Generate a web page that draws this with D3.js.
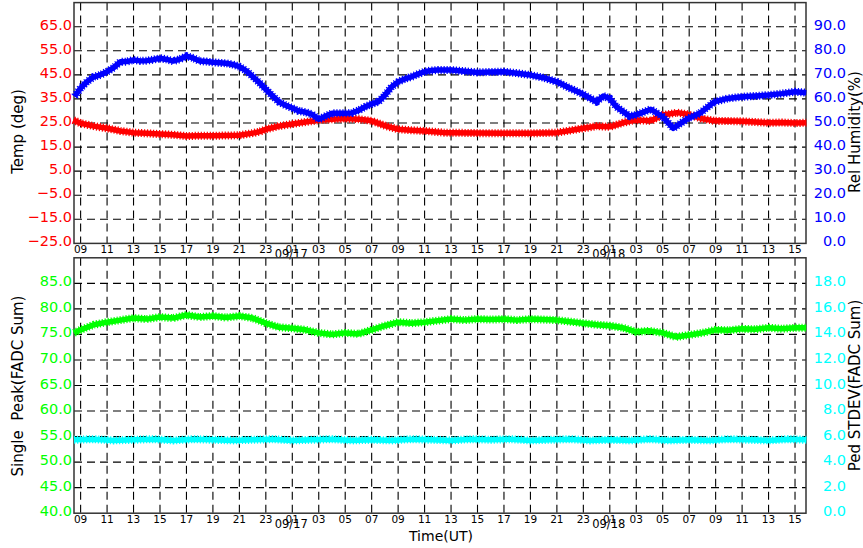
<!DOCTYPE html>
<html>
<head>
<meta charset="utf-8">
<script src="https://cdn.jsdelivr.net/npm/d3@7"></script>
<style>
  html, body { margin: 0; padding: 0; background: #fff; }
  svg { display: block; }
  text { font-family: "DejaVu Sans", sans-serif; }
</style>
</head>
<body>
<svg id="chart" width="863" height="548"></svg>
<script>
// ---------------- DATA (hours counted from 09/16 00:00 UT) ----------------
const timeStartHour = 8.5;
const timeEndHour = 63.83;

const tempHours = [8.45, 9, 10, 11, 12, 13, 14, 15, 16, 17, 18, 19, 20, 21, 22, 22.55, 23, 24, 25, 26, 27, 28, 29, 30, 31, 32.1, 33, 34, 35, 36.5, 37, 39, 41, 43, 45, 46, 47, 48, 49, 50, 50.9, 52.1, 53, 54.1, 54.9, 55.9, 56.9, 58, 59, 60, 61, 62, 63, 63.85];
const tempVals  = [26.2, 24.9, 23.7, 22.8, 21.7, 21.0, 20.7, 20.4, 20.1, 19.6, 19.7, 19.7, 19.8, 19.9, 20.8, 21.4, 22.4, 23.7, 24.6, 25.4, 26.2, 26.6, 26.9, 26.6, 25.9, 23.7, 22.4, 22.0, 21.7, 21.0, 21.0, 20.8, 20.7, 20.7, 21.0, 21.9, 22.8, 23.7, 23.4, 25.1, 26.2, 25.9, 28.3, 29.3, 28.6, 26.9, 25.9, 25.8, 25.7, 25.4, 25.1, 25.2, 25.0, 25.1];

const humHours = [8.55, 9, 9.5, 10, 10.5, 11, 11.5, 12, 12.5, 13, 13.5, 14, 14.5, 15, 15.5, 16, 16.5, 17, 17.5, 18, 18.5, 19, 19.5, 20, 20.5, 21, 21.5, 22, 22.5, 23, 23.5, 24, 24.5, 25, 25.5, 26, 26.5, 27, 27.5, 28, 28.5, 29, 29.5, 30, 30.5, 31, 31.5, 32, 32.5, 33, 33.5, 34, 34.5, 35, 35.5, 36, 37, 38, 39, 40, 41, 42, 43, 44, 45, 46, 47, 48, 48.5, 49, 49.5, 50.5, 50.9, 51.3, 52.1, 53, 53.8, 54.9, 55.8, 56.9, 57.9, 59, 60, 61, 62, 63, 63.85];
const humVals  = [61.0, 64.5, 67.2, 69.2, 70.0, 71.3, 73.0, 75.4, 75.5, 76.2, 75.8, 75.9, 76.3, 76.9, 76.4, 75.7, 76.5, 77.8, 77.0, 75.7, 75.5, 75.2, 75.0, 74.8, 74.3, 73.4, 71.8, 69.3, 66.8, 64.0, 61.3, 58.7, 57.3, 56.2, 55.0, 54.5, 53.6, 51.5, 52.8, 54.0, 54.0, 54.0, 54.2, 55.2, 56.7, 57.9, 58.8, 61.5, 65.0, 67.1, 68.3, 69.2, 70.3, 71.3, 71.8, 72.0, 72.0, 71.5, 71.0, 71.2, 71.3, 70.7, 69.9, 68.8, 67.1, 64.4, 61.9, 58.8, 61.2, 60.2, 56.7, 52.8, 53.3, 54.0, 55.7, 52.6, 47.8, 51.9, 54.0, 58.8, 60.2, 60.9, 61.2, 61.6, 62.2, 63.0, 62.6];

const peakHours = [8.5, 9, 10, 11, 12, 13, 14, 15, 16, 17, 18, 19, 20, 21, 22, 23, 24, 25, 26, 27, 28, 29, 30, 31, 32, 33, 34, 35, 36, 37, 38, 39, 40, 41, 42, 43, 44, 45, 46, 47, 48, 49, 50, 51, 52, 53, 54, 55, 56, 57, 58, 59, 60, 61, 62, 63, 63.85];
const peakVals  = [75.3, 75.9, 76.9, 77.4, 77.8, 78.2, 78.0, 78.4, 78.2, 78.8, 78.4, 78.6, 78.3, 78.6, 78.2, 77.2, 76.4, 76.2, 75.9, 75.3, 75.0, 75.3, 75.1, 75.9, 76.7, 77.4, 77.2, 77.4, 77.7, 78.0, 77.8, 78.0, 77.9, 78.0, 77.8, 78.0, 77.9, 77.8, 77.5, 77.2, 76.9, 76.7, 76.3, 75.5, 75.7, 75.3, 74.5, 74.9, 75.3, 75.9, 75.8, 76.1, 76.0, 76.3, 76.1, 76.3, 76.3];

const pedHours = [8.5, 10, 11.5, 13, 14.5, 16, 17.5, 19, 20.5, 22, 23.5, 25, 26.5, 28, 29.5, 31, 32.5, 34, 35.5, 37, 38.5, 40, 41.5, 43, 44.5, 46, 47.5, 49, 50.5, 52, 53.5, 55, 56.5, 58, 59.5, 61, 62.5, 63.85];
const pedVals  = [5.75, 5.8, 5.7, 5.75, 5.8, 5.7, 5.8, 5.75, 5.7, 5.75, 5.8, 5.7, 5.75, 5.8, 5.7, 5.75, 5.7, 5.8, 5.75, 5.7, 5.8, 5.75, 5.8, 5.7, 5.75, 5.8, 5.7, 5.75, 5.7, 5.8, 5.7, 5.75, 5.7, 5.8, 5.75, 5.7, 5.8, 5.75];

const xTickHours = [9, 11, 13, 15, 17, 19, 21, 23, 25, 27, 29, 31, 33, 35, 37, 39, 41, 43, 45, 47, 49, 51, 53, 55, 57, 59, 61, 63];
const dateLabelHours = [24, 48];

const tempTicks = [-25, -15, -5, 5, 15, 25, 35, 45, 55, 65];
const humTicks  = [0, 10, 20, 30, 40, 50, 60, 70, 80, 90];
const peakTicks = [40, 45, 50, 55, 60, 65, 70, 75, 80, 85];
const pedTicks  = [0, 2, 4, 6, 8, 10, 12, 14, 16, 18];

const labels = {
  temp: "Temp (deg)",
  hum: "Rel Humidity(%)",
  peak: "Single  Peak(FADC Sum)",
  ped: "Ped STDEV(FADC Sum)",
  time: "Time(UT)"
};

// ---------------- DRAWING ----------------
const baseMs = Date.UTC(2023, 8, 16, 0, 0, 0);
const T = h => new Date(baseMs + h * 3600e3);

const svg = d3.select("#chart");
const L = 74, R = 806;
const top1 = 2.6, bot1 = 243.4;
const top2 = 257.8, bot2 = 513.2;

const x = d3.scaleUtc().domain([T(timeStartHour), T(timeEndHour)]).range([L, R]);
const yTemp = d3.scaleLinear().domain([-25, 75]).range([bot1, top1]);
const yHum  = d3.scaleLinear().domain([0, 100]).range([bot1, top1]);
const yPeak = d3.scaleLinear().domain([40, 90]).range([bot2, top2]);
const yPed  = d3.scaleLinear().domain([0, 20]).range([bot2, top2]);

const fmt1 = v => d3.format(".1f")(v).replace("-", "\u2212");
const hourFmt = d3.utcFormat("%H");
const dateFmt = d3.utcFormat("%m/%d");

function panel(top, bot, yLeft, leftTicks, leftColor, yRight, rightTicks, rightColor, leftTitle, leftMid, rightTitle, rightMid) {
  const g = svg.append("g");
  g.selectAll("line.vg").data(xTickHours).join("line")
    .attr("x1", d => x(T(d))).attr("x2", d => x(T(d)))
    .attr("y1", top).attr("y2", bot)
    .attr("stroke", "#000").attr("stroke-width", 1.1)
    .attr("stroke-dasharray", "8,5");
  g.selectAll("line.hg").data(leftTicks.slice(1)).join("line")
    .attr("x1", L).attr("x2", R)
    .attr("y1", d => yLeft(d)).attr("y2", d => yLeft(d))
    .attr("stroke", "#000").attr("stroke-width", 1.1)
    .attr("stroke-dasharray", "8,5");
  g.append("rect").attr("x", L).attr("y", top).attr("width", R - L).attr("height", bot - top)
    .attr("fill", "none").attr("stroke", "#333").attr("stroke-width", 1.5);
  g.selectAll("text.yl").data(leftTicks).join("text")
    .attr("x", 72).attr("y", d => yLeft(d) + 3)
    .attr("text-anchor", "end").attr("fill", leftColor)
    .attr("font-size", "14.5px").text(fmt1);
  g.selectAll("text.yr").data(rightTicks).join("text")
    .attr("x", 846).attr("y", d => yRight(d) + 3)
    .attr("text-anchor", "end").attr("fill", rightColor)
    .attr("font-size", "14.5px").text(fmt1);
  g.selectAll("text.xt").data(xTickHours).join("text")
    .attr("x", d => x(T(d))).attr("y", bot + 9.8)
    .attr("text-anchor", "middle").attr("fill", "#000")
    .attr("font-size", "10.5px").text(d => hourFmt(T(d)));
  g.selectAll("text.xd").data(dateLabelHours).join("text")
    .attr("x", d => x(T(d + 1)) - 1).attr("y", bot + 14.8)
    .attr("text-anchor", "middle").attr("fill", "#000")
    .attr("font-size", "11.5px").text(d => dateFmt(T(d)));
  g.append("text").attr("transform", `translate(23,${leftMid}) rotate(-90)`)
    .attr("text-anchor", "middle").attr("font-size", "15px").attr("fill", "#000")
    .style("white-space", "pre").text(leftTitle);
  g.append("text").attr("transform", `translate(859.5,${rightMid}) rotate(-90)`)
    .attr("text-anchor", "middle").attr("font-size", "15px").attr("fill", "#000")
    .style("white-space", "pre").text(rightTitle);
}

panel(top1, bot1, yTemp, tempTicks, "#ff0000", yHum, humTicks, "#0000ff", labels.temp, 131.5, labels.hum, 132);
panel(top2, bot2, yPeak, peakTicks, "#00ff00", yPed, pedTicks, "#00ffff", labels.peak, 386, labels.ped, 385.5);

function series(hours, vals, yScale, color) {
  const pts = hours.map((h, i) => [T(h), vals[i]]);
  const line = d3.line().x(d => x(d[0])).y(d => yScale(d[1]));
  // fuzzy outer edge imitating the plus-symbol markers
  svg.append("path").datum(pts).attr("d", line)
    .attr("fill", "none").attr("stroke", color)
    .attr("stroke-width", 8).attr("stroke-dasharray", "1.2,1.8")
    .attr("stroke-linejoin", "round");
  svg.append("path").datum(pts).attr("d", line)
    .attr("fill", "none").attr("stroke", color)
    .attr("stroke-width", 5.5).attr("stroke-linejoin", "round");
}

series(tempHours, tempVals, yTemp, "#ff0000");
series(humHours, humVals, yHum, "#0000ff");
series(peakHours, peakVals, yPeak, "#00ff00");
series(pedHours, pedVals, yPed, "#00ffff");

svg.append("text").attr("x", 441).attr("y", 541)
  .attr("text-anchor", "middle").attr("font-size", "14px").attr("fill", "#000")
  .text(labels.time);
</script>
</body>
</html>
